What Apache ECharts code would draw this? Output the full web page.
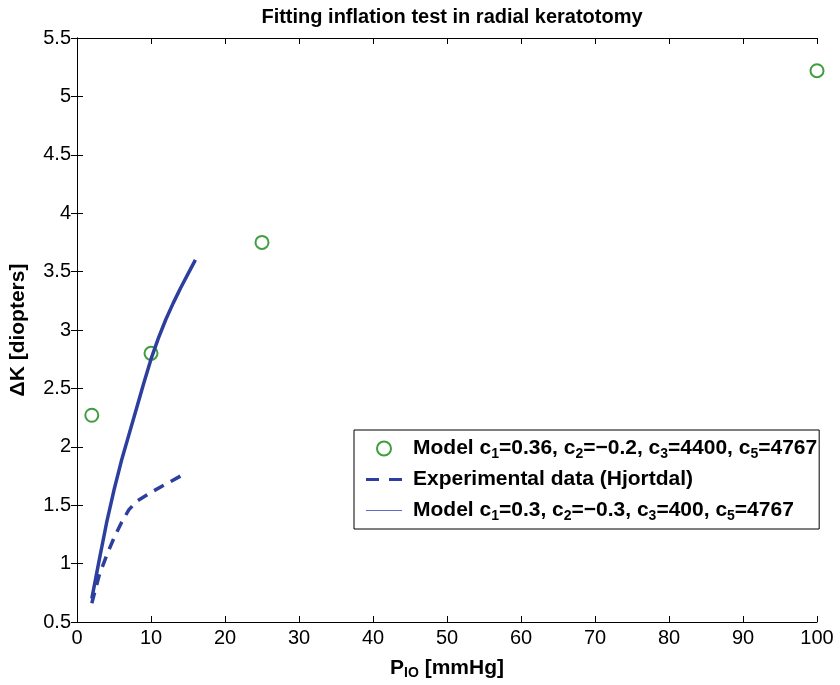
<!DOCTYPE html>
<html><head><meta charset="utf-8">
<script src="https://cdn.jsdelivr.net/npm/echarts@6/dist/echarts.min.js"></script>
<style>html,body{margin:0;padding:0;background:#fff}#c{width:840px;height:685px}</style>
</head><body><div id="c"></div>
<script>
// Data
const modelCirclesX = [2, 10, 25, 100];
const modelCirclesY = [2.27, 2.80, 3.75, 5.22];
const expX = [2, 3, 4, 5, 6, 7, 8, 10, 12, 14];
const expY = [0.66, 0.90, 1.07, 1.22, 1.35, 1.46, 1.53, 1.61, 1.68, 1.75];
const modelLineX = [2, 3, 4, 5, 6, 7, 8, 9, 10, 11, 12, 13, 14, 15, 16];
const modelLineY = [0.70, 1.03, 1.35, 1.63, 1.88, 2.10, 2.32, 2.54, 2.75, 2.93, 3.09, 3.23, 3.36, 3.48, 3.60];
const seriesNames = [
  'Model c1=0.36, c2=-0.2, c3=4400, c5=4767',
  'Experimental data (Hjortdal)',
  'Model c1=0.3, c2=-0.3, c3=400, c5=4767'
];
const legendRich = [
  '{g| }{b|Model c}{s|1}{b|=0.36, c}{s|2}{b|=\u22120.2, c}{s|3}{b|=4400, c}{s|5}{b|=4767}',
  '{g| }{b|Experimental data (Hjortdal)}',
  '{g| }{b|Model c}{s|1}{b|=0.3, c}{s|2}{b|=\u22120.3, c}{s|3}{b|=400, c}{s|5}{b|=4767}'
];
const titleText = 'Fitting inflation test in radial keratotomy';

const zip = (xs, ys) => xs.map((x, i) => [x, ys[i]]);
const blue = '#2d3f9e';
const green = '#108510';
const font = 'Liberation Sans, Arial, Helvetica, sans-serif';

const chart = echarts.init(document.getElementById('c'), null, {renderer: 'canvas'});
const axisCommon = {
  axisLine: {show: true, lineStyle: {color: '#000', width: 1}},
  axisTick: {show: true, inside: true, length: 6, lineStyle: {color: '#000'}},
  splitLine: {show: false}
};
const richText = {
  g: {fontSize: 20, width: 6, lineHeight: 26},
  b: {fontFamily: font, fontWeight: 'bold', fontSize: 21, color: '#000', lineHeight: 26},
  s: {fontFamily: font, fontWeight: 'bold', fontSize: 14, color: '#000', padding: [11, 0, 0, 0], lineHeight: 26}
};
const richName = {
  b: {fontFamily: font, fontWeight: 'bold', fontSize: 21, color: '#000', lineHeight: 24},
  s: {fontFamily: font, fontWeight: 'bold', fontSize: 14, color: '#000', padding: [10, 0, 0, 0], lineHeight: 24}
};
chart.setOption({
  animation: false,
  backgroundColor: '#fff',
  title: {
    text: titleText, left: 447, top: 2, textAlign: 'center',
    textStyle: {fontFamily: font, fontWeight: 'bold', fontSize: 20, color: '#000'}
  },
  grid: {left: 77, right: 23, top: 38, bottom: 63, containLabel: false, outerBoundsMode: 'none'},
  xAxis: [
    Object.assign({
      type: 'value', min: 0, max: 100, interval: 10, position: 'bottom',
      name: '{b|P}{s|IO}{b| [mmHg]}', nameLocation: 'middle', nameGap: 34,
      nameTextStyle: {rich: richName},
      axisLabel: {fontFamily: font, fontSize: 20, color: '#000', margin: 6}
    }, axisCommon),
    Object.assign({
      type: 'value', min: 0, max: 100, interval: 10, position: 'top',
      axisLabel: {show: false}
    }, axisCommon)
  ],
  yAxis: [
    Object.assign({
      type: 'value', min: 0.5, max: 5.5, interval: 0.5, position: 'left',
      name: '\u0394K [diopters]', nameLocation: 'middle', nameGap: 48,
      nameTextStyle: {fontFamily: font, fontWeight: 'bold', fontSize: 21, color: '#000'},
      axisLabel: {fontFamily: font, fontSize: 20, color: '#000', margin: 6,
        formatter: v => String(Math.round(v * 10) / 10)}
    }, axisCommon),
    Object.assign({
      type: 'value', min: 0.5, max: 5.5, interval: 0.5, position: 'right',
      axisLabel: {show: false}
    }, axisCommon)
  ],
  legend: {
    orient: 'vertical', left: 354, top: 430,
    padding: [6, 2, 6, 12],
    itemGap: 8, itemWidth: 36, itemHeight: 14,
    backgroundColor: '#fff', borderColor: '#000', borderWidth: 1, borderRadius: 0,
    formatter: name => legendRich[seriesNames.indexOf(name)],
    textStyle: {rich: richText},
    data: [
      {name: seriesNames[0], icon: 'emptyCircle', itemStyle: {color: green, borderColor: green, borderWidth: 1}},
      {name: seriesNames[1], icon: 'path://M0,6 L13,6 L13,9 L0,9 Z M23,6 L36,6 L36,9 L23,9 Z', itemStyle: {color: blue}},
      {name: seriesNames[2], icon: 'path://M0,7 L36,7 L36,8 L0,8 Z', itemStyle: {color: '#5f6fc0'}}
    ]
  },
  series: [
    {
      name: seriesNames[0], type: 'scatter', data: zip(modelCirclesX, modelCirclesY),
      symbol: 'emptyCircle', symbolSize: 13,
      itemStyle: {color: green, borderColor: green, borderWidth: 1}
    },
    {
      name: seriesNames[1], type: 'line', data: zip(expX, expY), smooth: false,
      showSymbol: false, symbol: 'none',
      lineStyle: {color: blue, width: 3.5, type: [11, 8]}, itemStyle: {color: blue}
    },
    {
      name: seriesNames[2], type: 'line', data: zip(modelLineX, modelLineY), smooth: false,
      showSymbol: false, symbol: 'none',
      lineStyle: {color: blue, width: 3.5}, itemStyle: {color: blue}
    }
  ]
});
</script></body></html>
